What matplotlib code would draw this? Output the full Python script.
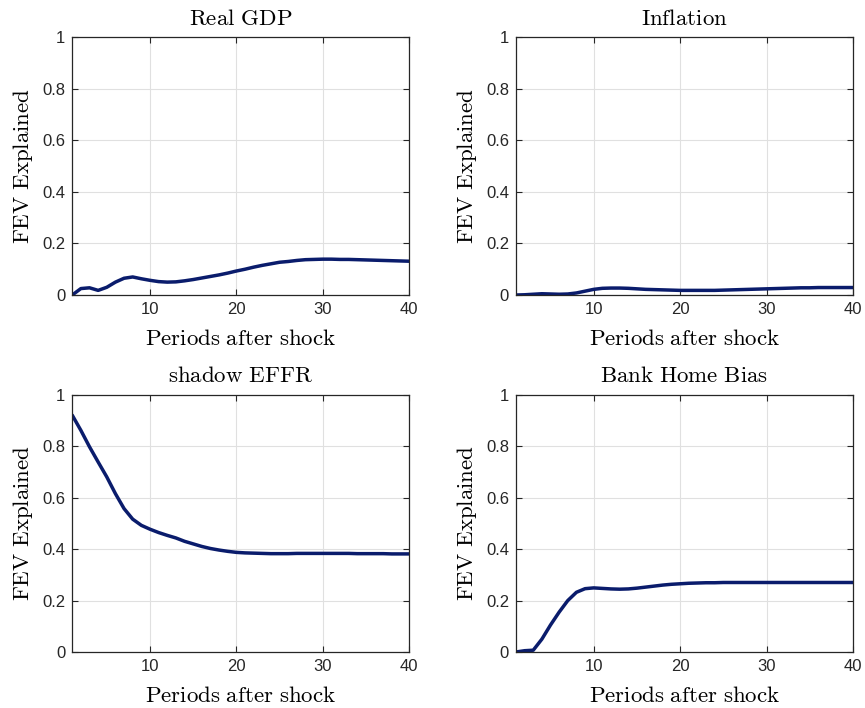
import numpy as np
import matplotlib
matplotlib.use("Agg")
import matplotlib.pyplot as plt
from matplotlib.ticker import FormatStrFormatter

plt.rcParams['mathtext.fontset'] = 'cm'
plt.rcParams['font.family'] = ['Liberation Sans', 'DejaVu Sans']

# Periods 1..40
periods = np.arange(1, 41)

real_gdp = [0.000, 0.025, 0.028, 0.018, 0.030, 0.050, 0.065, 0.070, 0.063, 0.057,
            0.052, 0.050, 0.051, 0.055, 0.060, 0.066, 0.072, 0.078, 0.085, 0.093,
            0.100, 0.108, 0.115, 0.121, 0.127, 0.130, 0.134, 0.137, 0.138, 0.139,
            0.139, 0.138, 0.138, 0.137, 0.136, 0.135, 0.134, 0.133, 0.132, 0.131]

inflation = [0.000, 0.001, 0.003, 0.005, 0.004, 0.003, 0.004, 0.008, 0.015, 0.022,
             0.026, 0.027, 0.027, 0.026, 0.024, 0.022, 0.021, 0.020, 0.019, 0.018,
             0.018, 0.018, 0.018, 0.018, 0.019, 0.020, 0.021, 0.022, 0.023, 0.024,
             0.025, 0.026, 0.027, 0.028, 0.028, 0.029, 0.029, 0.029, 0.029, 0.029]

shadow_effr = [0.920, 0.861, 0.797, 0.738, 0.680, 0.615, 0.557, 0.516, 0.492, 0.477,
               0.464, 0.453, 0.443, 0.430, 0.420, 0.410, 0.402, 0.396, 0.391, 0.387,
               0.385, 0.384, 0.383, 0.382, 0.382, 0.382, 0.383, 0.383, 0.383, 0.383,
               0.383, 0.383, 0.383, 0.382, 0.382, 0.382, 0.382, 0.381, 0.381, 0.381]

bank_home_bias = [0.000, 0.005, 0.007, 0.050, 0.105, 0.155, 0.200, 0.232, 0.246, 0.249,
                  0.247, 0.245, 0.244, 0.245, 0.248, 0.252, 0.256, 0.260, 0.263, 0.265,
                  0.267, 0.268, 0.269, 0.269, 0.270, 0.270, 0.270, 0.270, 0.270, 0.270,
                  0.270, 0.270, 0.270, 0.270, 0.270, 0.270, 0.270, 0.270, 0.270, 0.270]

titles = ["Real GDP", "Inflation", "shadow EFFR", "Bank Home Bias"]
series = [real_gdp, inflation, shadow_effr, bank_home_bias]

fig = plt.figure(figsize=(8.65, 7.08), dpi=100)

positions = [
    [0.0835, 0.5833, 0.3895, 0.3644],
    [0.5965, 0.5833, 0.3895, 0.3644],
    [0.0835, 0.0791, 0.3895, 0.3636],
    [0.5965, 0.0791, 0.3895, 0.3636],
]

axcol = '#262626'
linecol = '#0a1c6c'

for pos, ttl, vals in zip(positions, titles, series):
    ax = fig.add_axes(pos)
    ax.plot(periods, vals, color=linecol, linewidth=2.5,
            solid_joinstyle='round', solid_capstyle='round')
    ax.set_xlim(1, 40)
    ax.set_ylim(0, 1)
    ax.set_xticks([10, 20, 30, 40])
    ax.set_yticks([0, 0.2, 0.4, 0.6, 0.8, 1])
    ax.yaxis.set_major_formatter(FormatStrFormatter('%g'))
    ax.grid(True, color='#e0e0e0', linewidth=0.8)
    ax.set_axisbelow(True)
    ax.tick_params(direction='in', length=4, width=0.8, top=True, right=True,
                   labelsize=12, colors=axcol, pad=5)
    for sp in ax.spines.values():
        sp.set_color(axcol)
        sp.set_linewidth(0.9)
    ax.set_title(r'$\mathrm{' + ttl.replace(' ', r'\ ') + '}$', fontsize=16.5, pad=9)
    ax.set_xlabel(r'$\mathrm{Periods\ after\ shock}$', fontsize=16.5, labelpad=7)
    ax.set_ylabel(r'$\mathrm{FEV\ Explained}$', fontsize=16.5, labelpad=5)

fig.savefig("out.png", dpi=100)
